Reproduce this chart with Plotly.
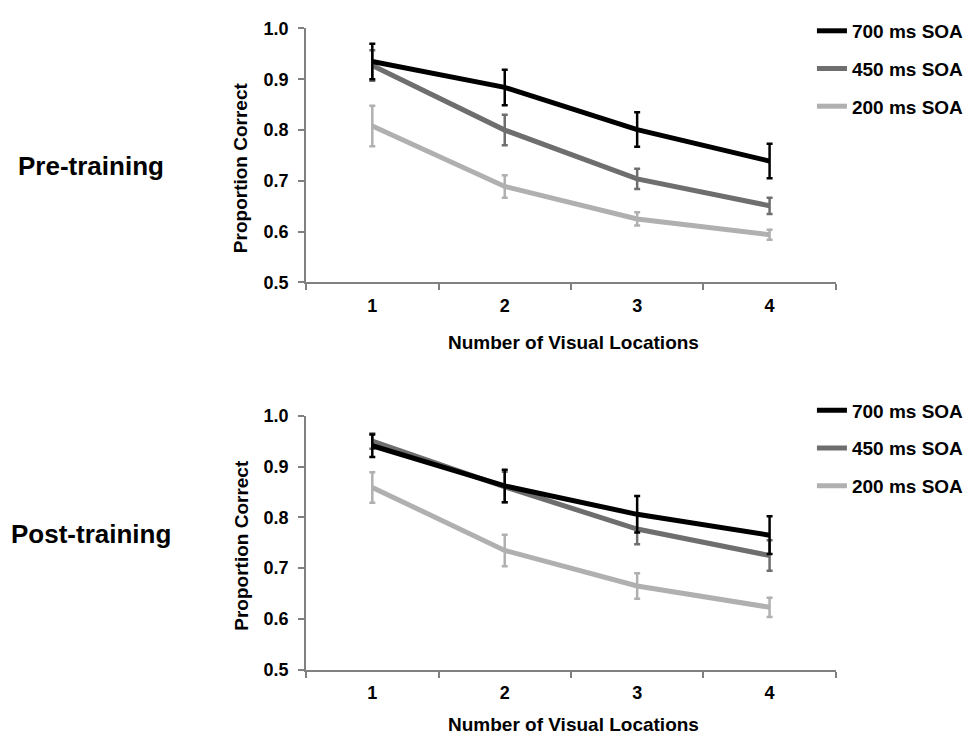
import plotly.graph_objects as go

locations = [1, 2, 3, 4]
series_names = ["200 ms SOA", "450 ms SOA", "700 ms SOA"]
legend_ranks = [3, 2, 1]
colors = ["#b0b0b0", "#6e6e6e", "#000000"]

pre_200 = [0.808, 0.689, 0.625, 0.594]
pre_200_err = [0.040, 0.022, 0.013, 0.010]
pre_450 = [0.927, 0.800, 0.704, 0.651]
pre_450_err = [0.030, 0.030, 0.020, 0.016]
pre_700 = [0.935, 0.884, 0.801, 0.739]
pre_700_err = [0.035, 0.035, 0.034, 0.034]

post_200 = [0.859, 0.735, 0.665, 0.623]
post_200_err = [0.030, 0.031, 0.025, 0.019]
post_450 = [0.950, 0.860, 0.777, 0.725]
post_450_err = [0.015, 0.030, 0.030, 0.030]
post_700 = [0.941, 0.862, 0.806, 0.765]
post_700_err = [0.022, 0.032, 0.036, 0.037]

x_tick_labels = ["1", "2", "3", "4"]
y_ticks = [0.5, 0.6, 0.7, 0.8, 0.9, 1.0]
x_title = "Number of Visual Locations"
y_title = "Proportion Correct"
panel_titles = ["Pre-training", "Post-training"]

FONT = "Liberation Sans, Arial, sans-serif"
W, H = 969, 744
AX = "#808080"

fig = go.Figure()

panels = [
    ([pre_200, pre_450, pre_700], [pre_200_err, pre_450_err, pre_700_err], "x", "y", "legend"),
    ([post_200, post_450, post_700], [post_200_err, post_450_err, post_700_err], "x2", "y2", "legend2"),
]
for vals_list, errs_list, xa, ya, lg in panels:
    for name, rank, col, vals, errs in zip(series_names, legend_ranks, colors, vals_list, errs_list):
        fig.add_trace(go.Scatter(
            x=locations, y=vals, name=name, mode="lines",
            line=dict(color=col, width=5),
            error_y=dict(type="data", array=errs, visible=True, color=col, thickness=2.5, width=3),
            xaxis=xa, yaxis=ya, legend=lg, legendgroup=lg + name, legendrank=rank,
        ))

def xaxis(anchor):
    return dict(
        domain=[308 / W, 841 / W], anchor=anchor, range=[0.5, 4.5],
        tickmode="array", tickvals=locations, ticktext=x_tick_labels, ticks="",
        ticklabelstandoff=6,
        tickfont=dict(family=FONT, size=18, color="#000", weight="bold"),
        showline=True, linecolor=AX, linewidth=2, showgrid=False, zeroline=False,
        minor=dict(tickmode="array", tickvals=[0.5, 1.5, 2.5, 3.5, 4.5], ticks="outside",
                   ticklen=6, tickwidth=2, tickcolor=AX),
    )

def yaxis(anchor, top, bottom):
    return dict(
        domain=[1 - bottom / H, 1 - top / H], anchor=anchor, range=[0.5, 1.0],
        tickmode="array", tickvals=y_ticks, tickformat=".1f", ticks="outside",
        ticklen=6, tickwidth=2, tickcolor=AX, ticklabelstandoff=6,
        tickfont=dict(family=FONT, size=18, color="#000", weight="bold"),
        showline=True, linecolor=AX, linewidth=2, showgrid=False, zeroline=False,
    )

leg_common = dict(
    font=dict(family=FONT, size=19, color="#000", weight="bold"),
    traceorder="grouped", tracegroupgap=10, bgcolor="rgba(0,0,0,0)",
    xanchor="left", yanchor="top", x=817 / W,
)

ann_font = dict(family=FONT, size=19, color="#000", weight="bold")
annotations = [
    dict(text=panel_titles[0], x=92 / W, y=1 - 160 / H, xref="paper", yref="paper",
         xanchor="center", yanchor="middle", showarrow=False,
         font=dict(family=FONT, size=26, color="#000", weight="bold")),
    dict(text=panel_titles[1], x=92 / W, y=1 - 538 / H, xref="paper", yref="paper",
         xanchor="center", yanchor="middle", showarrow=False,
         font=dict(family=FONT, size=26, color="#000", weight="bold")),
    dict(text=y_title, x=242 / W, y=1 - 162 / H, xref="paper", yref="paper",
         xanchor="center", yanchor="middle", textangle=-90, showarrow=False, font=ann_font),
    dict(text=y_title, x=243 / W, y=1 - 550 / H, xref="paper", yref="paper",
         xanchor="center", yanchor="middle", textangle=-90, showarrow=False, font=ann_font),
    dict(text=x_title, x=577 / W, y=1 - 342 / H, xref="paper", yref="paper",
         xanchor="center", yanchor="middle", showarrow=False, font=ann_font),
    dict(text=x_title, x=577 / W, y=1 - 734 / H, xref="paper", yref="paper",
         xanchor="center", yanchor="middle", showarrow=False, font=ann_font),
]

fig.update_layout(
    width=W, height=H, margin=dict(l=0, r=0, t=0, b=0),
    paper_bgcolor="white", plot_bgcolor="white",
    xaxis=xaxis("y"), yaxis=yaxis("x", 19, 280),
    xaxis2=xaxis("y2"), yaxis2=yaxis("x2", 417, 678),
    legend=dict(y=1 - 2 / H, **leg_common),
    legend2=dict(y=1 - 392 / H, **leg_common),
    annotations=annotations,
    showlegend=True,
)

fig.write_html("out.html", config={"displayModeBar": False},
               post_script="document.body.style.margin='0';")
